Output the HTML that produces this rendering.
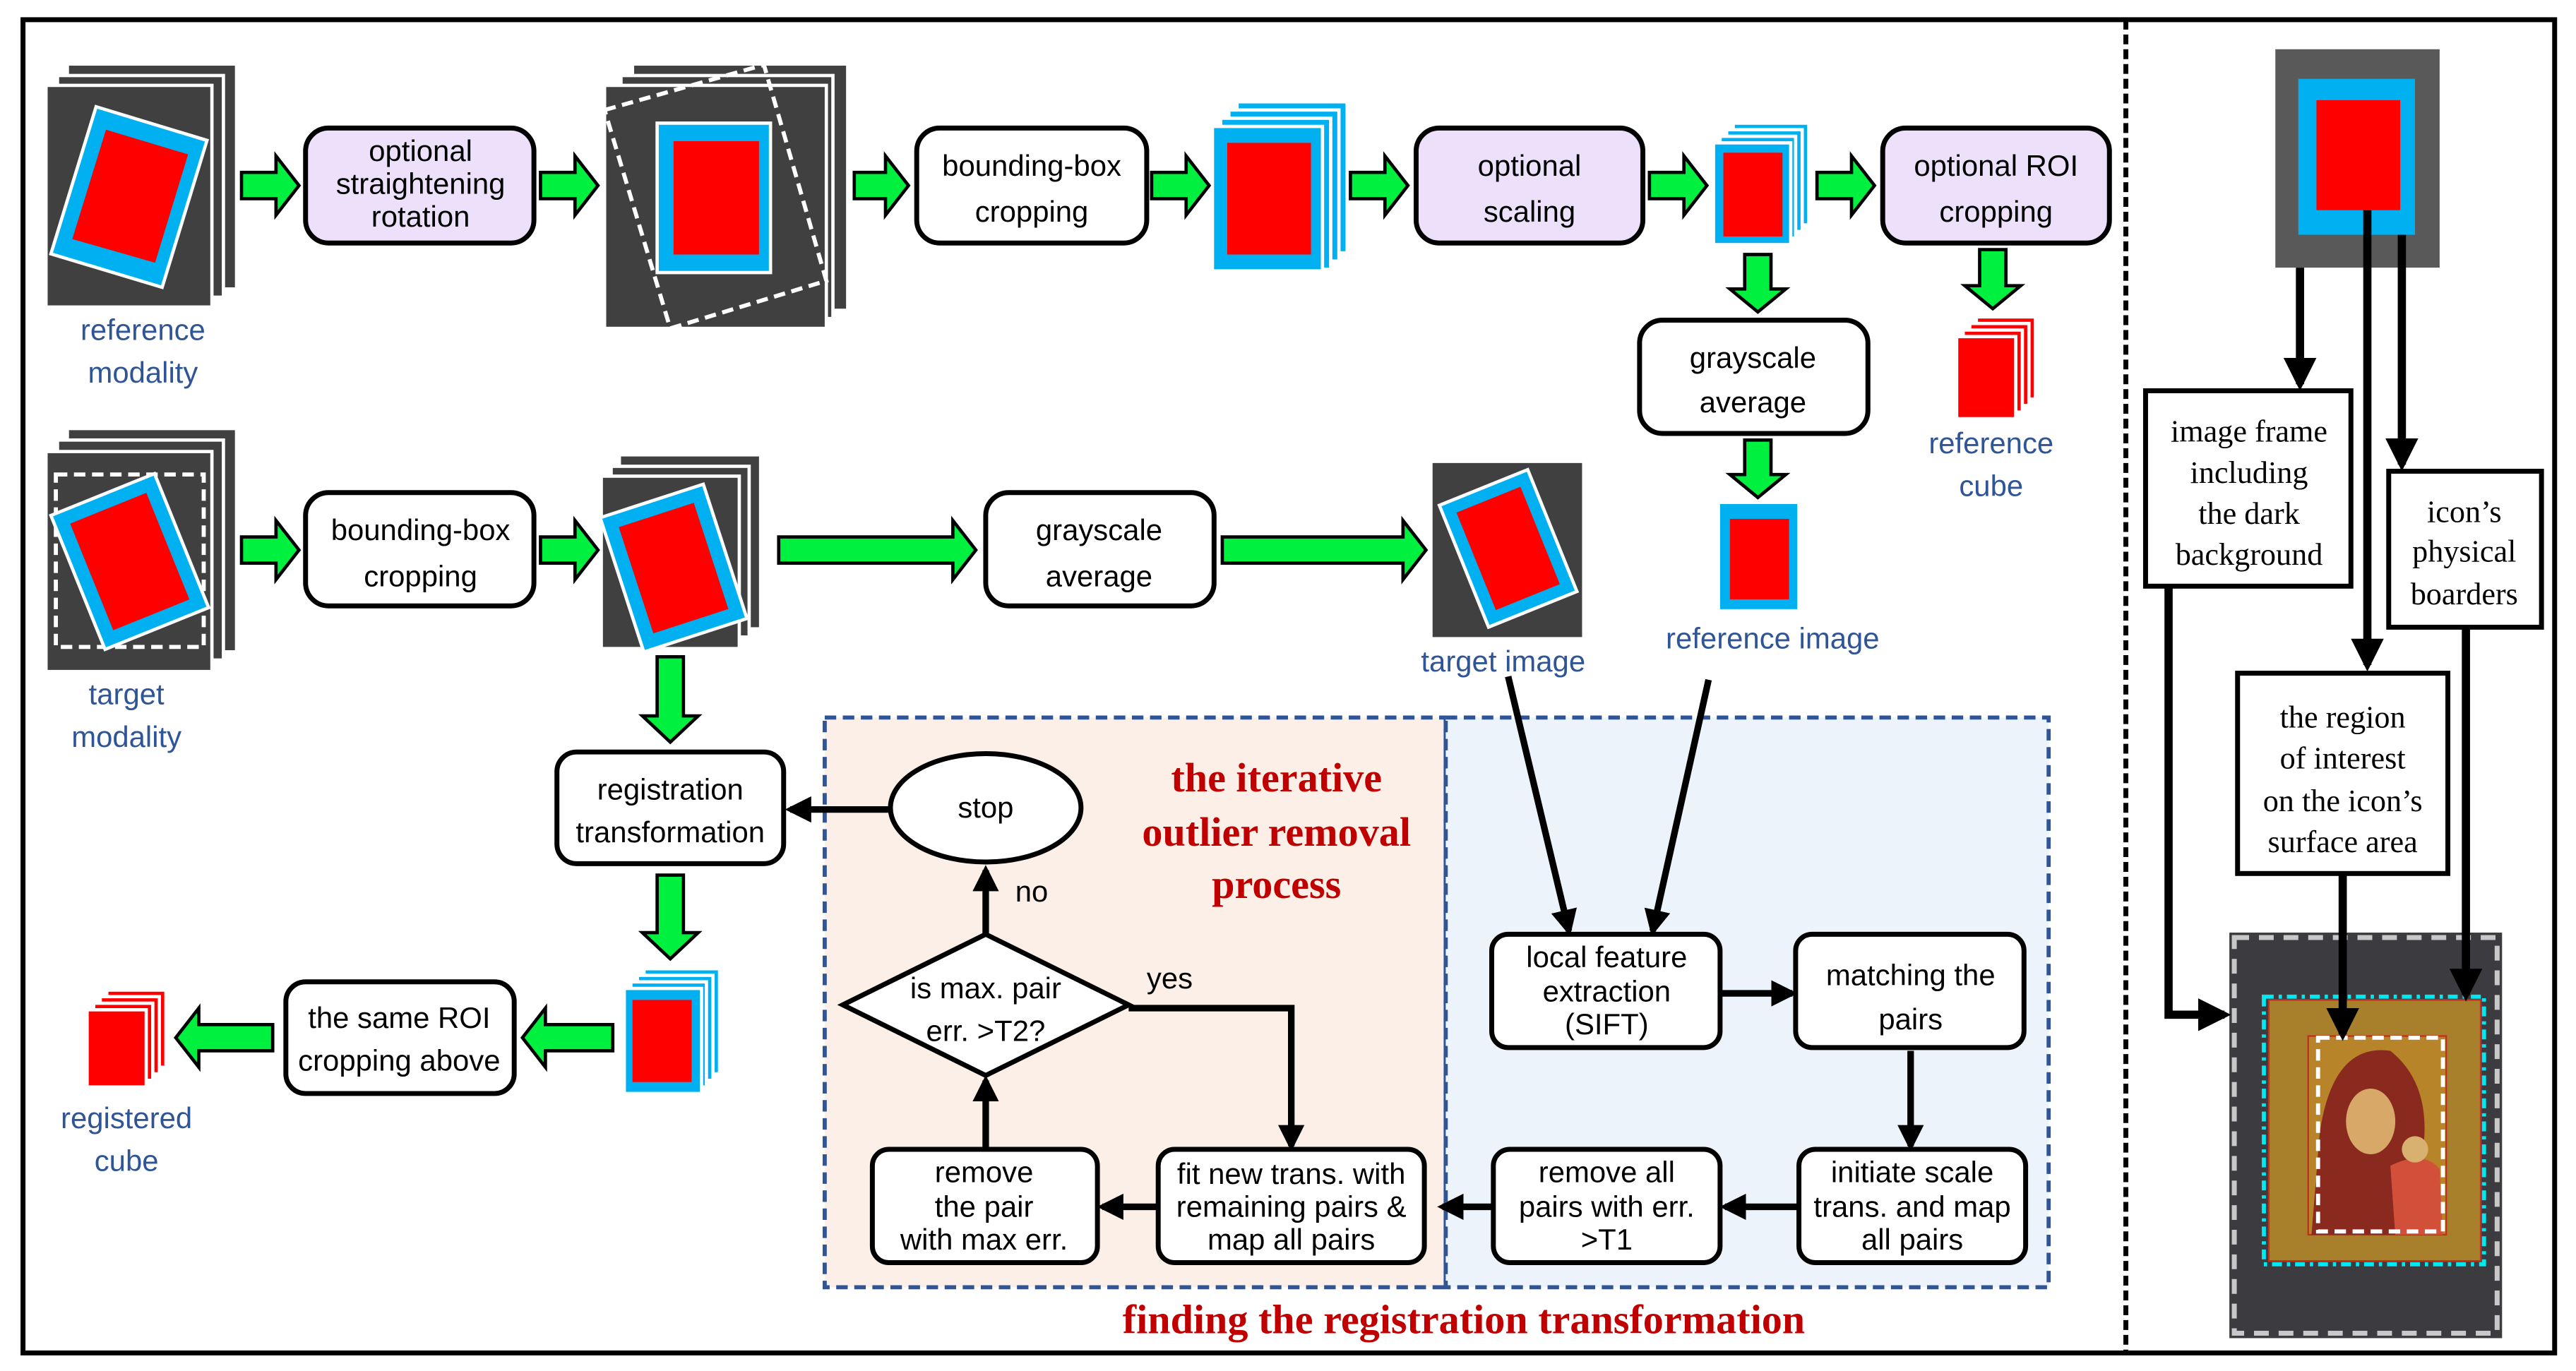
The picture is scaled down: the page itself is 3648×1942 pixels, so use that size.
<!DOCTYPE html>
<html><head><meta charset="utf-8"><style>
html,body{margin:0;padding:0;background:#fff;}
svg{display:block;}
.s{font-family:"Liberation Sans",sans-serif;font-size:18px;fill:#000;text-anchor:middle;}
.b{font-family:"Liberation Sans",sans-serif;font-size:18px;fill:#2f5597;text-anchor:middle;}
.r{font-family:"Liberation Serif",serif;font-size:19px;fill:#000;text-anchor:middle;}
.t{font-family:"Liberation Serif",serif;font-size:25px;font-weight:bold;fill:#c00000;text-anchor:middle;}
.g{fill:#00f040;stroke:#000;stroke-width:2;}
.bx{stroke:#000;stroke-width:3;}
</style></head><body>
<svg width="3648" height="1942" viewBox="0 0 1568 835" preserveAspectRatio="none" xmlns="http://www.w3.org/2000/svg">
<defs>
<marker id="ah" markerWidth="4" markerHeight="4" refX="3.2" refY="2" orient="auto" markerUnits="strokeWidth"><path d="M0,0 L4,2 L0,4 Z" fill="#000"/></marker>
</defs>
<rect x="0" y="0" width="1568" height="835" fill="#fff"/>
<rect x="14" y="12" width="1541" height="812" fill="none" stroke="#000" stroke-width="3"/>
<line x1="1294" y1="12" x2="1294" y2="824" stroke="#000" stroke-width="3" stroke-dasharray="6,3"/>

<rect x="502" y="437" width="378" height="347" fill="#fbefe7" stroke="#2f5597" stroke-width="2.5" stroke-dasharray="7,4"/>
<rect x="880" y="437" width="367" height="347" fill="#edf3fa" stroke="#2f5597" stroke-width="2.5" stroke-dasharray="7,4"/>

<!-- ref modality stack -->
<rect x="42" y="40" width="101" height="135" fill="#404040"/>
<rect x="35" y="46" width="101" height="135" fill="#404040" stroke="#fff" stroke-width="2"/>
<rect x="28" y="52" width="101" height="135" fill="#404040" stroke="#fff" stroke-width="2"/>
<polygon points="58.5,65 126,85.5 98.7,175 31,154.6" fill="#00b0f0" stroke="#fff" stroke-width="2"/>
<polygon points="64.5,79 114.5,94 94.4,160 44,145.6" fill="#f00"/>
<text class="b" x="87" y="207">reference</text>
<text class="b" x="87" y="233">modality</text>

<rect class="bx" x="186" y="78" width="139" height="70" rx="14" fill="#ece0fb"/>
<text class="s" x="256" y="98">optional</text>
<text class="s" x="256" y="118">straightening</text>
<text class="s" x="256" y="138">rotation</text>

<!-- rotated stack 2 -->
<rect x="386" y="40" width="129" height="148" fill="#404040"/>
<rect x="378" y="46" width="129" height="148" fill="#404040" stroke="#fff" stroke-width="2"/>
<rect x="368" y="52" width="135" height="148" fill="#404040" stroke="#fff" stroke-width="2"/>
<polygon points="368,67 465,39.5 503,171 408,200" fill="none" stroke="#fff" stroke-width="2.5" stroke-dasharray="7,4"/>
<rect x="400" y="75" width="69" height="91" fill="#00b0f0" stroke="#fff" stroke-width="2"/>
<rect x="410" y="86" width="52" height="69" fill="#f00"/>

<rect class="bx" x="558" y="78" width="140" height="70" rx="14" fill="#fff"/>
<text class="s" x="628" y="107" font-size="20">bounding-box</text>
<text class="s" x="628" y="135" font-size="20">cropping</text>

<rect x="753" y="62" width="67" height="92" fill="#00b0f0" stroke="#fff" stroke-width="2"/>
<rect x="748" y="67" width="67" height="92" fill="#00b0f0" stroke="#fff" stroke-width="2"/>
<rect x="743" y="72" width="67" height="92" fill="#00b0f0" stroke="#fff" stroke-width="2"/>
<rect x="738" y="77" width="67" height="88" fill="#00b0f0" stroke="#fff" stroke-width="2"/>
<rect x="747" y="87" width="51" height="68" fill="#f00"/>

<rect class="bx" x="862" y="78" width="138" height="70" rx="14" fill="#ece0fb"/>
<text class="s" x="931" y="107" font-size="20">optional</text>
<text class="s" x="931" y="135" font-size="20">scaling</text>

<rect x="1055" y="75" width="46" height="62" fill="#00b0f0" stroke="#fff" stroke-width="2"/>
<rect x="1051" y="79" width="46" height="62" fill="#00b0f0" stroke="#fff" stroke-width="2"/>
<rect x="1047" y="83" width="46" height="62" fill="#00b0f0" stroke="#fff" stroke-width="2"/>
<rect x="1043" y="87" width="47" height="62" fill="#00b0f0" stroke="#fff" stroke-width="2"/>
<rect x="1049" y="93" width="36" height="51" fill="#f00"/>

<rect class="bx" x="1146" y="78" width="138" height="70" rx="14" fill="#ece0fb"/>
<text class="s" x="1215" y="107" font-size="20">optional ROI</text>
<text class="s" x="1215" y="135" font-size="20">cropping</text>

<rect x="1203" y="193" width="36" height="50" fill="#f00" stroke="#fff" stroke-width="2"/>
<rect x="1199" y="197" width="36" height="50" fill="#f00" stroke="#fff" stroke-width="2"/>
<rect x="1195" y="201" width="36" height="50" fill="#f00" stroke="#fff" stroke-width="2"/>
<rect x="1191" y="205" width="36" height="50" fill="#f00" stroke="#fff" stroke-width="2"/>
<text class="b" x="1212" y="276">reference</text>
<text class="b" x="1212" y="302">cube</text>

<rect class="bx" x="998" y="195" width="139" height="69" rx="14" fill="#fff"/>
<text class="s" x="1067" y="224" font-size="20">grayscale</text>
<text class="s" x="1067" y="251" font-size="20">average</text>
<rect x="1047" y="307" width="47" height="64" fill="#00b0f0"/>
<rect x="1053" y="316" width="36" height="49" fill="#f00"/>
<text class="b" x="1079" y="395">reference image</text>

<rect x="42" y="262" width="101" height="134" fill="#404040"/>
<rect x="35" y="268" width="101" height="134" fill="#404040" stroke="#fff" stroke-width="2"/>
<rect x="28" y="275" width="101" height="134" fill="#404040" stroke="#fff" stroke-width="2"/>
<rect x="34" y="289" width="90" height="105" fill="none" stroke="#fff" stroke-width="2.5" stroke-dasharray="7,4"/>
<g transform="translate(79,342) rotate(-22)">
<rect x="-34" y="-44" width="68" height="88" fill="#00b0f0" stroke="#fff" stroke-width="2"/>
<rect x="-25" y="-35" width="50" height="70" fill="#f00"/>
</g>
<text class="b" x="77" y="429">target</text>
<text class="b" x="77" y="455">modality</text>

<rect class="bx" x="186" y="300" width="139" height="69" rx="14" fill="#fff"/>
<text class="s" x="256" y="329" font-size="20">bounding-box</text>
<text class="s" x="256" y="357" font-size="20">cropping</text>

<rect x="378" y="278" width="84" height="104" fill="#404040"/>
<rect x="372" y="284" width="84" height="104" fill="#404040" stroke="#fff" stroke-width="2"/>
<rect x="366" y="290" width="84" height="105" fill="#404040" stroke="#fff" stroke-width="2"/>
<g transform="translate(410,346) rotate(-18)">
<rect x="-33" y="-43" width="66" height="86" fill="#00b0f0" stroke="#fff" stroke-width="2"/>
<rect x="-24" y="-34" width="48" height="68" fill="#f00"/>
</g>

<rect class="bx" x="600" y="300" width="139" height="69" rx="14" fill="#fff"/>
<text class="s" x="669" y="329" font-size="20">grayscale</text>
<text class="s" x="669" y="357" font-size="20">average</text>

<rect x="872" y="282" width="91" height="106" fill="#404040"/>
<g transform="translate(918,334) rotate(-22)">
<rect x="-29" y="-40" width="58" height="80" fill="#00b0f0" stroke="#fff" stroke-width="2"/>
<rect x="-21" y="-32" width="42" height="64" fill="#f00"/>
</g>
<text class="b" x="915" y="409">target image</text>

<rect class="bx" x="339" y="458" width="138" height="68" rx="12" fill="#fff"/>
<text class="s" x="408" y="487">registration</text>
<text class="s" x="408" y="513">transformation</text>

<rect x="392" y="590" width="46" height="64" fill="#00b0f0" stroke="#fff" stroke-width="2"/>
<rect x="388" y="594" width="46" height="64" fill="#00b0f0" stroke="#fff" stroke-width="2"/>
<rect x="384" y="598" width="46" height="64" fill="#00b0f0" stroke="#fff" stroke-width="2"/>
<rect x="380" y="602" width="47" height="64" fill="#00b0f0" stroke="#fff" stroke-width="2"/>
<rect x="385" y="609" width="36" height="50" fill="#f00"/>

<rect class="bx" x="174" y="598" width="139" height="68" rx="12" fill="#fff"/>
<text class="s" x="243" y="626">the same ROI</text>
<text class="s" x="243" y="652">cropping above</text>

<rect x="65" y="603" width="36" height="47" fill="#f00" stroke="#fff" stroke-width="2"/>
<rect x="61" y="607" width="36" height="47" fill="#f00" stroke="#fff" stroke-width="2"/>
<rect x="57" y="611" width="36" height="47" fill="#f00" stroke="#fff" stroke-width="2"/>
<rect x="53" y="615" width="36" height="47" fill="#f00" stroke="#fff" stroke-width="2"/>
<text class="b" x="77" y="687">registered</text>
<text class="b" x="77" y="713">cube</text>

<g class="g">
<path d="M147 105H168V95L182 113L168 131V121H147Z"/>
<path d="M329 105H350V95L364 113L350 131V121H329Z"/>
<path d="M520 105H539V95L553 113L539 131V121H520Z"/>
<path d="M701 105H722V95L736 113L722 131V121H701Z"/>
<path d="M822 105H843V95L857 113L843 131V121H822Z"/>
<path d="M1004 105H1025V95L1039 113L1025 131V121H1004Z"/>
<path d="M1106 105H1127V95L1141 113L1127 131V121H1106Z"/>
<path d="M147 327H168V317L182 335L168 353V343H147Z"/>
<path d="M329 327H350V317L364 335L350 353V343H329Z"/>
<path d="M474 327H580V317L594 335L580 353V343H474Z"/>
<path d="M744 327H854V317L868 335L854 353V343H744Z"/>
<path d="M373 624H332V614L318 632L332 650V640H373Z"/>
<path d="M166 624H121V614L107 632L121 650V640H166Z"/>
<path d="M1062 155V176H1053L1070 190L1087 176H1078V155Z"/>
<path d="M1062 268V289H1053L1070 303L1087 289H1078V268Z"/>
<path d="M1205 152V174H1196L1213 188L1230 174H1221V152Z"/>
<path d="M400 400V436H391L408 452L425 436H416V400Z"/>
<path d="M400 533V568H391L408 584L425 568H416V533Z"/>
</g>

<text class="t" x="777" y="482">the iterative</text>
<text class="t" x="777" y="515">outlier removal</text>
<text class="t" x="777" y="547">process</text>
<text class="t" x="891" y="812">finding the registration transformation</text>

<ellipse cx="600" cy="492" rx="58" ry="33" fill="#fff" stroke="#000" stroke-width="3"/>
<text class="s" x="600" y="498">stop</text>
<polygon points="600,569 687,612 600,655 513,612" fill="#fff" stroke="#000" stroke-width="3"/>
<text class="s" x="600" y="608">is max. pair</text>
<text class="s" x="600" y="634">err. &gt;T2?</text>
<text class="s" x="628" y="549">no</text>
<text class="s" x="712" y="602">yes</text>

<rect class="bx" x="531" y="700" width="137" height="69" rx="10" fill="#fff"/>
<text class="s" x="599" y="720">remove</text>
<text class="s" x="599" y="741">the pair</text>
<text class="s" x="599" y="761">with max err.</text>
<rect class="bx" x="705" y="700" width="162" height="69" rx="10" fill="#fff"/>
<text class="s" x="786" y="721" font-size="17">fit new trans. with</text>
<text class="s" x="786" y="741" font-size="17">remaining pairs &amp;</text>
<text class="s" x="786" y="761" font-size="17">map all pairs</text>
<rect class="bx" x="909" y="700" width="138" height="69" rx="10" fill="#fff"/>
<text class="s" x="978" y="720">remove all</text>
<text class="s" x="978" y="741">pairs with err.</text>
<text class="s" x="978" y="761">&gt;T1</text>
<rect class="bx" x="1095" y="700" width="138" height="69" rx="10" fill="#fff"/>
<text class="s" x="1164" y="720">initiate scale</text>
<text class="s" x="1164" y="741">trans. and map</text>
<text class="s" x="1164" y="761">all pairs</text>
<rect class="bx" x="908" y="569" width="139" height="69" rx="10" fill="#fff"/>
<text class="s" x="978" y="589">local feature</text>
<text class="s" x="978" y="610">extraction</text>
<text class="s" x="978" y="630">(SIFT)</text>
<rect class="bx" x="1093" y="569" width="139" height="69" rx="10" fill="#fff"/>
<text class="s" x="1163" y="600" font-size="19">matching the</text>
<text class="s" x="1163" y="627" font-size="19">pairs</text>

<g stroke="#000" stroke-width="4" fill="none" marker-end="url(#ah)">
<line x1="542" y1="493" x2="481" y2="493"/>
<line x1="600" y1="569" x2="600" y2="530"/>
<polyline points="687,614 786,614 786,698"/>
<line x1="705" y1="735" x2="671" y2="735"/>
<line x1="600" y1="700" x2="600" y2="658"/>
<line x1="1047" y1="605" x2="1091" y2="605"/>
<line x1="1163" y1="640" x2="1163" y2="698"/>
<line x1="1095" y1="735" x2="1050" y2="735"/>
<line x1="909" y1="735" x2="878" y2="735"/>
<line x1="918" y1="412" x2="955" y2="567"/>
<line x1="1040" y1="414" x2="1006" y2="567"/>
</g>

<rect x="1385" y="30" width="100" height="133" fill="#595959"/>
<rect x="1399" y="48" width="71" height="95" fill="#00b0f0"/>
<rect x="1410" y="61" width="51" height="67" fill="#f00"/>
<rect x="1306" y="238" width="125" height="119" fill="#fff" stroke="#000" stroke-width="3"/>
<text class="r" x="1369" y="269">image frame</text>
<text class="r" x="1369" y="294">including</text>
<text class="r" x="1369" y="319">the dark</text>
<text class="r" x="1369" y="344">background</text>
<rect x="1454" y="287" width="93" height="95" fill="#fff" stroke="#000" stroke-width="3"/>
<text class="r" x="1500" y="318">icon’s</text>
<text class="r" x="1500" y="342">physical</text>
<text class="r" x="1500" y="368">boarders</text>
<rect x="1362" y="410" width="128" height="122" fill="#fff" stroke="#000" stroke-width="3"/>
<text class="r" x="1426" y="443">the region</text>
<text class="r" x="1426" y="468">of interest</text>
<text class="r" x="1426" y="494">on the icon’s</text>
<text class="r" x="1426" y="519">surface area</text>

<rect x="1357" y="568" width="166" height="247" fill="#3c3c40"/>
<rect x="1360" y="571" width="160" height="241" fill="none" stroke="#c8c8c8" stroke-width="3" stroke-dasharray="9,6"/>
<rect x="1381" y="609" width="129" height="159" fill="#a8802c" stroke="#c03020" stroke-width="1"/>
<rect x="1405" y="631" width="84" height="121" fill="#b8842a" stroke="#c03020" stroke-width="1"/>
<path d="M1407 752 L1412 690 Q1420 635 1455 640 Q1480 660 1475 700 L1460 752 Z" fill="#8a2a1e"/>
<ellipse cx="1443" cy="683" rx="15" ry="20" fill="#d8a868"/>
<path d="M1455 710 Q1475 700 1485 712 L1487 752 L1458 752 Z" fill="#d2503a"/>
<circle cx="1470" cy="700" r="8" fill="#d8b070"/>
<rect x="1411" y="632" width="76" height="118" fill="none" stroke="#fff" stroke-width="2.5" stroke-dasharray="7,4"/>
<rect x="1378" y="607" width="134" height="163" fill="none" stroke="#00e8f0" stroke-width="2.5" stroke-dasharray="6,3,2,3"/>

<g stroke="#000" stroke-width="5" fill="none" marker-end="url(#ah)">
<line x1="1400" y1="163" x2="1400" y2="234"/>
<line x1="1441" y1="128" x2="1441" y2="405"/>
<line x1="1462" y1="143" x2="1462" y2="283"/>
<polyline points="1320,357 1320,618 1354,618"/>
<line x1="1426" y1="532" x2="1426" y2="630"/>
<line x1="1501" y1="382" x2="1501" y2="606"/>
</g>
</svg>
</body></html>
